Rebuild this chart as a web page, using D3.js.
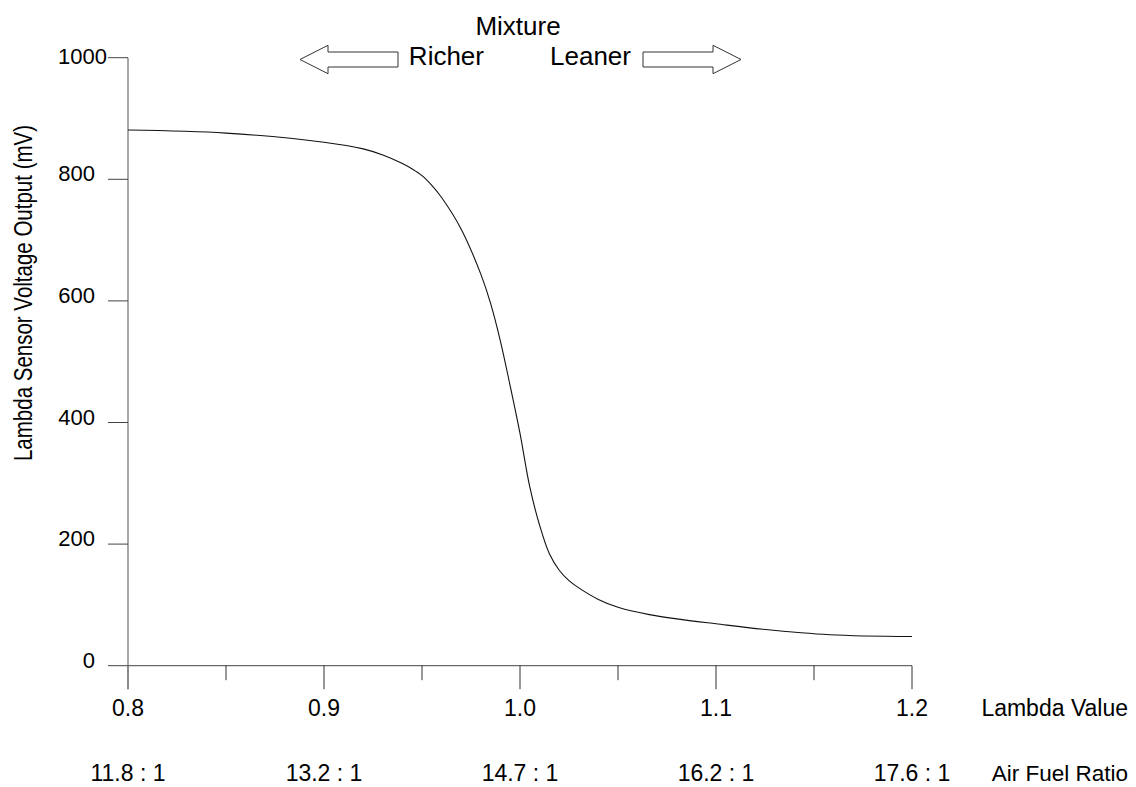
<!DOCTYPE html>
<html>
<head>
<meta charset="utf-8">
<script src="https://cdn.jsdelivr.net/npm/d3@7"></script>
<style>
  html, body { margin: 0; padding: 0; background: #fff; }
  svg { display: block; }
  text { font-family: "Liberation Sans", Arial, sans-serif; fill: #000; }
</style>
</head>
<body>
<svg id="chart" width="1136" height="787"></svg>
<script>
// ---- data ----
const lambdaValues = [0.80, 0.85, 0.90, 0.92, 0.93, 0.94, 0.945, 0.95, 0.955, 0.96, 0.97, 0.98, 0.985, 0.99, 0.995, 1.00, 1.005, 1.01, 1.015, 1.02, 1.025, 1.03, 1.04, 1.05, 1.066, 1.08, 1.10, 1.124, 1.158, 1.20];
const sensorMv     = [881,  876,  861,  850,  840,  826,  817,   806,  790,   770,  718,  644,  596,   534,  460,   382,  294,   231,  184,   157,  140,   128,  109,  96,   84,    77,   69,   60,    51,    48];
const lambdaTicks = [0.8, 0.9, 1.0, 1.1, 1.2];
const lambdaMinorTicks = [0.85, 0.95, 1.05, 1.15];
const afrLabels = ["11.8 : 1", "13.2 : 1", "14.7 : 1", "16.2 : 1", "17.6 : 1"];
const mvTicks = [0, 200, 400, 600, 800, 1000];

// ---- layout ----
const svg = d3.select("#chart");
const x = d3.scaleLinear().domain([0.8, 1.2]).range([128, 912]);
const y = d3.scaleLinear().domain([0, 1000]).range([665.7, 57.7]);

// y axis line
svg.append("line")
  .attr("x1", x(0.8)).attr("x2", x(0.8))
  .attr("y1", y(1000)).attr("y2", y(0) + 23.5)
  .attr("stroke", "#7a7a7a").attr("stroke-width", 1.3);

// x axis line (starts at left end of y ticks)
svg.append("line")
  .attr("x1", 108).attr("x2", x(1.2))
  .attr("y1", y(0)).attr("y2", y(0))
  .attr("stroke", "#444").attr("stroke-width", 1);

// y ticks
svg.selectAll("line.ytick").data(mvTicks.filter(d => d > 0)).enter().append("line")
  .attr("class", "ytick")
  .attr("x1", 108).attr("x2", x(0.8))
  .attr("y1", d => y(d)).attr("y2", d => y(d))
  .attr("stroke", "#444").attr("stroke-width", 1);

svg.selectAll("text.ylab").data(mvTicks).enter().append("text")
  .attr("class", "ylab")
  .attr("x", d => d === 1000 ? 107 : 95)
  .attr("y", d => y(d) + (d === 1000 ? 6 : 2))
  .attr("text-anchor", "end")
  .attr("font-size", 22)
  .text(d => d);

// x major ticks
svg.selectAll("line.xmaj").data(lambdaTicks).enter().append("line")
  .attr("class", "xmaj")
  .attr("x1", d => x(d)).attr("x2", d => x(d))
  .attr("y1", y(0)).attr("y2", y(0) + 23.5)
  .attr("stroke", d => d === 0.8 ? "#7a7a7a" : "#333")
  .attr("stroke-width", d => d === 0.8 ? 1.3 : 1);

// x minor ticks
svg.selectAll("line.xmin").data(lambdaMinorTicks).enter().append("line")
  .attr("class", "xmin")
  .attr("x1", d => x(d)).attr("x2", d => x(d))
  .attr("y1", y(0)).attr("y2", y(0) + 14.5)
  .attr("stroke", "#333").attr("stroke-width", 1);

// x tick labels
svg.selectAll("text.xlab").data(lambdaTicks).enter().append("text")
  .attr("class", "xlab")
  .attr("x", d => x(d)).attr("y", 716)
  .attr("text-anchor", "middle")
  .attr("font-size", 23)
  .text(d => d.toFixed(1));

// AFR labels
svg.selectAll("text.afr").data(afrLabels).enter().append("text")
  .attr("class", "afr")
  .attr("x", (d, i) => x(lambdaTicks[i])).attr("y", 781)
  .attr("text-anchor", "middle")
  .attr("font-size", 23)
  .text(d => d);

svg.append("text").attr("x", 1128).attr("y", 716)
  .attr("text-anchor", "end").attr("font-size", 23).text("Lambda Value");
svg.append("text").attr("x", 1128).attr("y", 781)
  .attr("text-anchor", "end").attr("font-size", 22.5).text("Air Fuel Ratio");

// y axis title
svg.append("text")
  .attr("transform", "translate(32,293) rotate(-90) scale(1,1.22)")
  .attr("text-anchor", "middle")
  .attr("font-size", 20.5)
  .text("Lambda Sensor Voltage Output (mV)");

// curve
const pts = lambdaValues.map((l, i) => [l, sensorMv[i]]);
svg.append("path")
  .datum(pts)
  .attr("fill", "none")
  .attr("stroke", "#111")
  .attr("stroke-width", 1.1)
  .attr("d", d3.line().x(d => x(d[0])).y(d => y(d[1])).curve(d3.curveCatmullRom.alpha(0.5)));

// Mixture annotation
const topFont = 26;
svg.append("text").attr("x", 518).attr("y", 35)
  .attr("text-anchor", "middle").attr("font-size", topFont).text("Mixture");
svg.append("text").attr("x", 484).attr("y", 65)
  .attr("text-anchor", "end").attr("font-size", topFont).text("Richer");
svg.append("text").attr("x", 550).attr("y", 65)
  .attr("text-anchor", "start").attr("font-size", topFont).text("Leaner");

// arrows
function arrow(tipX, headX, tailX, cy) {
  const sh = 7.5, hh = 14.2;
  return [[tipX, cy], [headX, cy - hh], [headX, cy - sh], [tailX, cy - sh],
          [tailX, cy + sh], [headX, cy + sh], [headX, cy + hh]];
}
const arrows = [arrow(300, 328, 398, 59.5), arrow(741, 713, 643, 59.5)];
svg.selectAll("polygon.arrow").data(arrows).enter().append("polygon")
  .attr("class", "arrow")
  .attr("points", d => d.map(p => p.join(",")).join(" "))
  .attr("fill", "#fff").attr("stroke", "#333").attr("stroke-width", 1);
</script>
</body>
</html>
